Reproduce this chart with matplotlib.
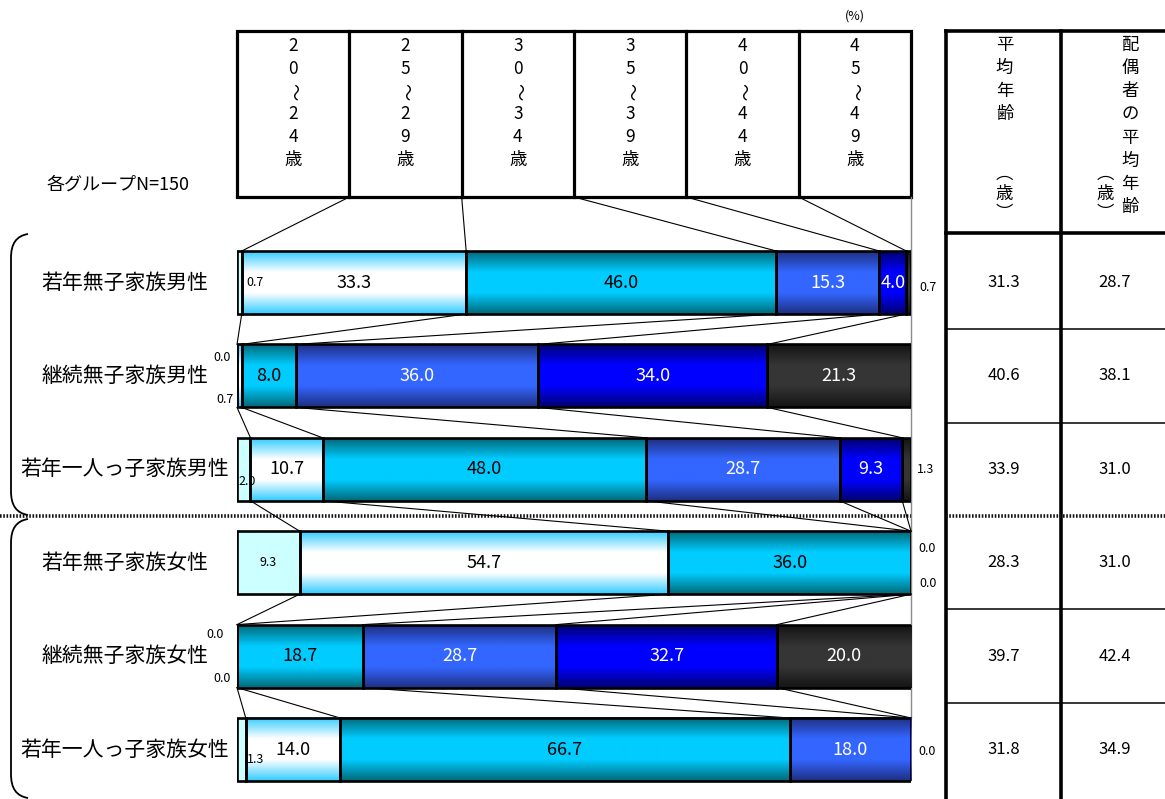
import numpy as np
import matplotlib
matplotlib.use('Agg')
import matplotlib.pyplot as plt
from matplotlib.colors import LinearSegmentedColormap
from matplotlib.patches import Rectangle, PathPatch
from matplotlib.path import Path

plt.rcParams['font.family'] = ['Noto Sans CJK JP', 'DejaVu Sans']

# ---------------- data ----------------
groups = ['若年無子家族男性', '継続無子家族男性', '若年一人っ子家族男性',
          '若年無子家族女性', '継続無子家族女性', '若年一人っ子家族女性']
age_bands = ['20～24歳', '25～29歳', '30～34歳', '35～39歳', '40～44歳', '45～49歳']
share_20_24 = [0.7, 0.0, 2.0, 9.3, 0.0, 1.3]
share_25_29 = [33.3, 0.7, 10.7, 54.7, 0.0, 14.0]
share_30_34 = [46.0, 8.0, 48.0, 36.0, 18.7, 66.7]
share_35_39 = [15.3, 36.0, 28.7, 0.0, 28.7, 18.0]
share_40_44 = [4.0, 34.0, 9.3, 0.0, 32.7, 0.0]
share_45_49 = [0.7, 21.3, 1.3, 0.0, 20.0, 0.0]
mean_age = [31.3, 40.6, 33.9, 28.3, 39.7, 31.8]
spouse_mean_age = [28.7, 38.1, 31.0, 31.0, 42.4, 34.9]
col1_head_main = '平均年齢'
col1_head_unit = '︵歳︶'   # （歳） in vertical writing
col2_head_main = '配偶者の平均年齢'
col2_head_unit = '︵歳︶'
note_n = '各グループN=150'
unit_text = '(%)'

shares = np.array([share_20_24, share_25_29, share_30_34,
                   share_35_39, share_40_44, share_45_49]).T  # rows x cats
n_rows, n_cats = shares.shape
cum = np.cumsum(shares, axis=1)
left = cum - shares

# ---------------- styles ----------------
seg_styles = [  # edge colour, middle colour, label colour
    ('#ccffff', '#ccffff', 'black'),
    ('#33ccff', '#ffffff', 'black'),
    ('#006878', '#00ccff', 'black'),
    ('#1f2f80', '#3366ff', 'white'),
    ('#000070', '#0000ff', 'white'),
    ('#141414', '#353535', 'white'),
]
W, H = 1165, 799
PX0, PX1 = 237, 911          # pixel extent of 0..100 %
Y0, DY = 282.5, 93.4          # pixel centre of first row, row pitch
HEAD_TOP, HEAD_BOT = 31, 197
TAB_X0, TAB_X1 = 946, 1061
TAB_HEAD_BOT = 233
BAR_H = 63 / DY

fig = plt.figure(figsize=(W / 100, H / 100), dpi=100)
bg = fig.add_axes([0, 0, 1, 1])
bg.set_xlim(0, W)
bg.set_ylim(H, 0)
bg.axis('off')

ax = fig.add_axes([PX0 / W, 0, (PX1 - PX0) / W, (H - HEAD_BOT) / H])
ax.patch.set_visible(False)
ax.axis('off')
ylim = ((H - Y0) / DY, (HEAD_BOT - Y0) / DY)

rows = np.arange(n_rows)

# ---------------- series lines (behind bars) ----------------
y_head = ylim[1]
for k in range(1, n_cats):
    ax.plot([k * 100 / n_cats, cum[0, k - 1]], [y_head, rows[0] - BAR_H / 2],
            color='black', lw=0.8, zorder=1, clip_on=False)
    for i in range(n_rows - 1):
        ax.plot([cum[i, k - 1], cum[i + 1, k - 1]],
                [rows[i] + BAR_H / 2, rows[i + 1] - BAR_H / 2],
                color='black', lw=0.8, zorder=1, clip_on=False)
ax.plot([100, 100], [y_head, rows[-1] - BAR_H / 2], color='#8a8a8a', lw=1.0,
        zorder=0.5, clip_on=False)

# ---------------- bars with vertical gradients ----------------
grad = np.linspace(0, 1, 128).reshape(-1, 1)
for k in range(n_cats):
    edge_c, mid_c, _ = seg_styles[k]
    cmap = LinearSegmentedColormap.from_list(f'g{k}', [edge_c, mid_c, mid_c, edge_c])
    bars = ax.barh(rows, shares[:, k], left=left[:, k], height=BAR_H,
                   facecolor='none', edgecolor='black', linewidth=1.9, zorder=4)
    for b in bars:
        if b.get_width() <= 0:
            continue
        x0, y0 = b.get_x(), b.get_y()
        ax.imshow(grad, cmap=cmap, aspect='auto', interpolation='bilinear',
                  extent=(x0, x0 + b.get_width(), y0 + b.get_height(), y0),
                  zorder=3, clip_on=False)
ax.set_xlim(0, 100)
ax.set_ylim(*ylim)

# ---------------- value labels ----------------
small_inside = {(0, 0): (2.7, 0.0), (2, 0): (1.5, 0.13), (5, 0): (2.8, 0.11)}
outside = {(1, 0): (-2.2, -0.2), (1, 1): (-1.8, 0.25),
           (4, 0): (-3.3, -0.23), (4, 1): (-2.2, 0.24),
           (0, 5): (102.5, 0.05), (2, 5): (102.1, 0.0),
           (3, 3): (102.4, -0.15), (3, 4): (102.5, 0.22), (5, 5): (102.4, 0.02)}
hidden = {(3, 5), (5, 4)}
for i in range(n_rows):
    for k in range(n_cats):
        v = shares[i, k]
        if (i, k) in hidden:
            continue
        if (i, k) in outside:
            x, dy = outside[(i, k)]
            ax.text(x, rows[i] + dy, f'{v:.1f}', ha='center', va='center',
                    fontsize=9, color='black', zorder=6, clip_on=False)
        elif (i, k) in small_inside:
            x, dy = small_inside[(i, k)]
            ax.text(x, rows[i] + dy, f'{v:.1f}', ha='center', va='center',
                    fontsize=9, color='black', zorder=6)
        elif v > 0:
            xc = left[i, k] + v / 2
            fs = 9 if k == 0 else 13
            ax.text(xc, rows[i], f'{v:.1f}', ha='center', va='center',
                    fontsize=fs, color=seg_styles[k][2], zorder=6)

# ---------------- age-band header ----------------
col_w = (PX1 - PX0) / n_cats
bg.add_patch(Rectangle((PX0, HEAD_TOP), PX1 - PX0, HEAD_BOT - HEAD_TOP,
                       fill=False, lw=2.3, ec='black', zorder=5))
for k in range(1, n_cats):
    bg.plot([PX0 + k * col_w] * 2, [HEAD_TOP, HEAD_BOT], color='black', lw=2.3, zorder=5)
for k, band in enumerate(age_bands):
    xc = PX0 + (k + 0.5) * col_w
    for j, ch in enumerate(band):
        rot = -90 if ch == '～' else 0
        bg.text(xc, 46 + 22.8 * j, ch, ha='center', va='center', fontsize=12.5,
                rotation=rot, rotation_mode='anchor')
bg.text(855, 16, unit_text, ha='center', va='center', fontsize=9)
bg.text(118, 185, note_n, ha='center', va='center', fontsize=13)

# ---------------- group labels ----------------
for i, g in enumerate(groups):
    bg.text(125, Y0 + DY * i, g, ha='center', va='center', fontsize=15)

# ---------------- braces ----------------
def brace(y_top, y_bot):
    verts = [(28, y_top), (16, y_top + 2), (11, y_top + 10), (11, y_top + 24),
             (11, y_bot - 24), (11, y_bot - 10), (16, y_bot - 2), (28, y_bot)]
    codes = [Path.MOVETO, Path.CURVE4, Path.CURVE4, Path.CURVE4,
             Path.LINETO, Path.CURVE4, Path.CURVE4, Path.CURVE4]
    bg.add_patch(PathPatch(Path(verts, codes), fill=False, lw=1.3, ec='black'))

brace(234, 515)
brace(519, 798)

# ---------------- dotted separator ----------------
y_sep = Y0 + DY * 2.5
for xa, xb in [(0, PX1), (TAB_X0, W)]:
    bg.plot([xa, xb], [y_sep, y_sep], color='#111111', lw=2.6,
            ls=(0, (0.45, 0.45)), dash_capstyle='butt', zorder=6)

# ---------------- right table ----------------
for x in (TAB_X0, TAB_X1):
    bg.plot([x, x], [HEAD_TOP, H], color='black', lw=2.6, zorder=5)
for y in (HEAD_TOP, TAB_HEAD_BOT):
    bg.plot([TAB_X0, W], [y, y], color='black', lw=2.6, zorder=5)
for i in range(n_rows - 1):
    if i == 2:
        continue
    y = Y0 + DY * (i + 0.5)
    bg.plot([TAB_X0, W], [y, y], color='black', lw=1.1, zorder=5)

c1 = (TAB_X0 + TAB_X1) / 2
for j, ch in enumerate(col1_head_main):
    bg.text(c1 + 1, 45 + 23 * j, ch, ha='center', va='center', fontsize=12.5)
for j, ch in enumerate(col1_head_unit):
    bg.text(c1 + 1, 174 + 19.5 * j, ch, ha='center', va='center', fontsize=12.5)
for j, ch in enumerate(col2_head_main):
    bg.text(1130, 45 + 23.2 * j, ch, ha='center', va='center', fontsize=12.5)
for j, ch in enumerate(col2_head_unit):
    bg.text(1105, 174 + 19.5 * j, ch, ha='center', va='center', fontsize=12.5)

for i in range(n_rows):
    y = Y0 + DY * i
    bg.text(c1, y, f'{mean_age[i]:.1f}', ha='center', va='center', fontsize=12)
    bg.text(1115, y, f'{spouse_mean_age[i]:.1f}', ha='center', va='center', fontsize=12)

fig.savefig('out.png', dpi=100)
